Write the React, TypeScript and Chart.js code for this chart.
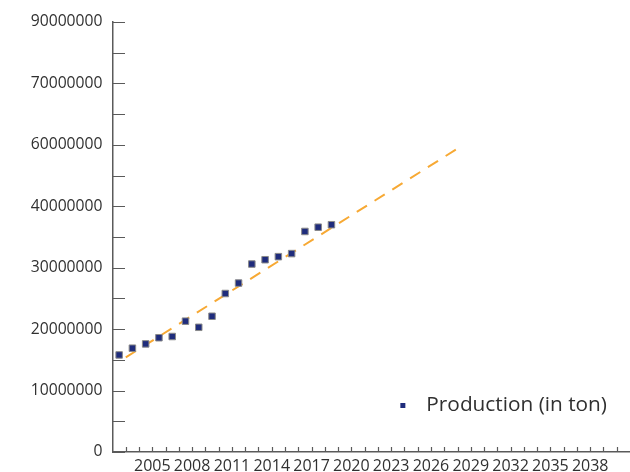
import React, { useEffect, useRef } from "react";
import { Chart, registerables } from "chart.js";

Chart.register(...registerables);

// Annual production, one point per year (plotted in the middle of its year band)
const productionYears = [
  2002, 2003, 2004, 2005, 2006, 2007, 2008, 2009, 2010,
  2011, 2012, 2013, 2014, 2015, 2016, 2017, 2018,
];
const productionValues = [
  15800000, 16900000, 17600000, 18600000, 18800000, 21300000, 20300000,
  22100000, 25800000, 27500000, 30600000, 31300000, 31800000, 32300000,
  35900000, 36600000, 37000000,
];

// Linear trend, start and end points
const trendYears = [2003, 2028];
const trendValues = [15400000, 49400000];

// Axis ticks
const xTickLabels = [
  "2005", "2008", "2011", "2014", "2017", "2020",
  "2023", "2026", "2029", "2032", "2035", "2038",
];
const yTickValues = [0, 10000000, 20000000, 30000000, 40000000, 50000000, 60000000, 70000000];
const yTickLabels = [
  "0", "10000000", "20000000", "30000000",
  "40000000", "60000000", "70000000", "90000000",
];

const seriesLabel = "Production (in ton)";
const FONT = "'Open Sans', 'Noto Sans', sans-serif";
const TEXT = "#303030";
const NAVY = "#1f2c7c";
const ORANGE = "#f7a934";
const AXIS = "#5a5a5a";

// Small tick marks pointing into the plot area
const innerTicks = {
  id: "innerTicks",
  afterDraw(chart: any) {
    const { ctx, chartArea } = chart;
    const xs = chart.scales.x;
    const ys = chart.scales.y;
    ctx.save();
    ctx.strokeStyle = AXIS;
    ctx.lineWidth = 1.2;
    ctx.beginPath();
    ys.ticks.forEach((t: any, i: number) => {
      const py = Math.round(ys.getPixelForTick(i)) + 0.5;
      ctx.moveTo(chartArea.left, py);
      ctx.lineTo(chartArea.left + 12.5, py);
    });
    xs.ticks.forEach((t: any, i: number) => {
      if (t.value <= xs.min || t.value >= xs.max) return;
      const px = Math.round(xs.getPixelForTick(i)) + 0.5;
      ctx.moveTo(px, chartArea.bottom);
      ctx.lineTo(px, chartArea.bottom - 5);
    });
    ctx.stroke();
    ctx.restore();
  },
};

// Legend entry in the lower right of the plot area
const cornerLegend = {
  id: "cornerLegend",
  afterDraw(chart: any) {
    const { ctx, chartArea } = chart;
    const ds = chart.data.datasets[0];
    ctx.save();
    ctx.font = `20.8px ${FONT}`;
    ctx.fillStyle = TEXT;
    ctx.textBaseline = "middle";
    ctx.textAlign = "left";
    const w = ctx.measureText(ds.label).width;
    const tx = chartArea.right - 23 - w;
    const ty = chartArea.bottom - 47;
    ctx.fillText(ds.label, tx, ty);
    ctx.fillStyle = ds.backgroundColor;
    ctx.fillRect(tx - 26, ty - 2, 5, 5);
    ctx.restore();
  },
};

export default function App() {
  const canvasRef = useRef<HTMLCanvasElement | null>(null);

  useEffect(() => {
    if (!canvasRef.current) return;
    const chart = new Chart(canvasRef.current, {
      type: "scatter",
      data: {
        datasets: [
          {
            label: seriesLabel,
            data: productionYears.map((yr, i) => ({ x: yr + 0.5, y: productionValues[i] })),
            pointStyle: "rect",
            pointRadius: 4.6,
            backgroundColor: NAVY,
            borderColor: "#8a8a8a",
            borderWidth: 1,
            order: 0,
          },
          {
            label: "Trend",
            type: "line",
            data: trendYears.map((yr, i) => ({ x: yr, y: trendValues[i] })),
            borderColor: ORANGE,
            borderWidth: 2,
            borderDash: [12, 9],
            pointRadius: 0,
            fill: false,
            order: 1,
          } as any,
        ],
      },
      options: {
        responsive: false,
        animation: false,
        layout: { autoPadding: false, padding: { top: 22, left: 0, right: 0, bottom: 0 } },
        plugins: {
          legend: { display: false },
          tooltip: { enabled: false },
        },
        scales: {
          x: {
            type: "linear",
            min: 2002,
            max: 2041,
            grid: { display: false, drawTicks: false },
            border: { display: true, color: AXIS, width: 1.5 },
            ticks: {
              stepSize: 1,
              autoSkip: false,
              maxRotation: 0,
              minRotation: 0,
              padding: 5,
              color: TEXT,
              font: { family: FONT, size: 16 },
              callback: (v: any) => (xTickLabels.includes(String(v)) ? String(v) : ""),
            },
            afterFit: (s: any) => {
              s.height = 20;
              s.paddingLeft = 0;
              s.paddingRight = 0;
            },
          },
          y: {
            type: "linear",
            min: 0,
            max: 70000000,
            grid: { display: false, drawTicks: false },
            border: { display: true, color: AXIS, width: 1.5 },
            ticks: {
              stepSize: 5000000,
              padding: 10,
              color: TEXT,
              font: { family: FONT, size: 15.7 },
              callback: (v: any) => {
                const k = yTickValues.indexOf(Number(v));
                return k >= 0 ? yTickLabels[k] : "";
              },
            },
            afterFit: (s: any) => {
              s.width = 112.5;
            },
          },
        },
      },
      plugins: [innerTicks, cornerLegend],
    });
    return () => chart.destroy();
  }, []);

  return (
    <div style={{ position: "fixed", left: 0, top: 0, width: 630, height: 472, background: "#fff" }}>
      <canvas ref={canvasRef} width={630} height={472} style={{ display: "block" }} />
    </div>
  );
}
